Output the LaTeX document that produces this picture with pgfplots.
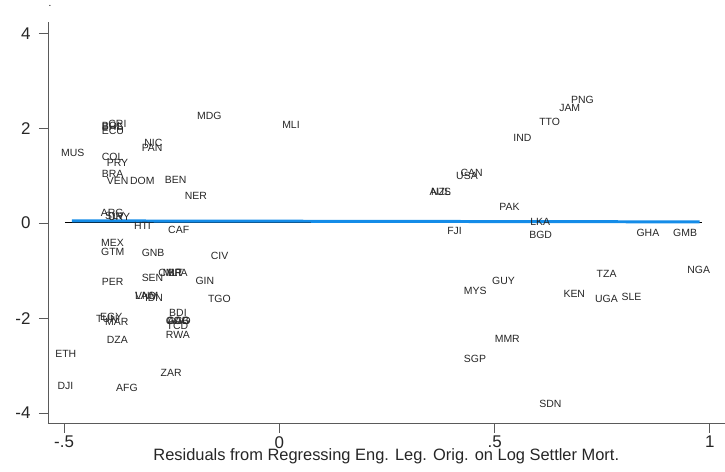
\documentclass[border=0pt]{standalone}
\usepackage{fontspec}
\setmainfont{Liberation Sans}
\usepackage{pgfplots}
\pgfplotsset{compat=1.18}
\definecolor{fitblue}{RGB}{20,140,232}
\definecolor{axgray}{RGB}{90,90,90}
\begin{document}
\begin{tikzpicture}
\begin{axis}[
  scale only axis, width=677bp, height=402.3bp,
  xmin=-0.5375, xmax=1.0343, ymin=-4.225, ymax=4.244,
  axis x line*=bottom, axis y line*=left,
  axis line style={draw=axgray, line width=0.8pt, -},
  xtick={-0.5,0,0.5,1}, xticklabels={-.5,0,.5,1},
  ytick={-4,-2,0,2,4}, yticklabels={-4,-2,0,2,4},
  tick align=outside, major tick length=9bp,
  tick style={axgray, line width=0.8pt},
  ticklabel style={font=\fontsize{17}{17}\selectfont, text=black!85},
  yticklabel style={xshift=-5bp},
  clip=false,
  xlabel={Residuals from Regressing Eng. Leg. Orig. on Log Settler Mort.},
  xlabel style={font=\fontsize{16.5}{16.5}\selectfont, text=black!85, at={(axis description cs:0.5,-0.082)}, anchor=center},
]
\path (rel axis cs:-0.0709,-0.1193) rectangle (rel axis cs:1.0,1.0539);
\node[font=\fontsize{10}{10}\selectfont] at (rel axis cs:0.003,1.039) {.};
\addplot[draw=none, mark=none, nodes near coords, point meta=explicit symbolic,
  nodes near coords style={anchor=west, inner sep=0pt, font=\fontsize{10.5}{10.5}\selectfont, text=black!85}]
  table[meta=lab] {
x y lab
-0.1914 2.265 MDG
0.0063 2.074 MLI
-0.3975 2.095 CRI
-0.4127 2.038 BOL
-0.4127 2.030 BHS
-0.4127 1.941 ECU
-0.5076 1.488 MUS
-0.3141 1.699 NIC
-0.3201 1.581 PAN
-0.4127 1.403 COL
-0.4012 1.276 PRY
-0.4127 1.031 BRA
-0.4012 0.895 VEN
-0.3472 0.895 DOM
-0.2662 0.910 BEN
-0.2199 0.571 NER
-0.4150 0.218 ARG
-0.4051 0.148 SLV
-0.3981 0.138 URY
-0.3380 -0.063 HTI
-0.2586 -0.148 CAF
-0.4144 -0.417 MEX
-0.4144 -0.607 GTM
-0.3201 -0.629 GNB
-0.1597 -0.698 CIV
-0.4127 -1.242 PER
-0.3201 -1.149 SEN
-0.2817 -1.052 CMR
-0.2708 -1.052 MLT
-0.2593 -1.052 BFA
-0.1951 -1.221 GIN
-0.3356 -1.539 VNM
-0.3356 -1.539 LAO
-0.3125 -1.572 IDN
-0.1660 -1.587 TGO
-0.2563 -1.898 BDI
-0.2640 -2.050 COG
-0.2620 -2.050 GAB
-0.2600 -2.050 AGO
-0.2623 -2.159 TCD
-0.2639 -2.349 RWA
-0.4167 -1.968 EGY
-0.4259 -2.017 TUN
-0.4051 -2.074 MAR
-0.4012 -2.461 DZA
-0.5208 -2.745 ETH
-0.5155 -3.429 DJI
-0.3796 -3.477 AFG
-0.2762 -3.147 ZAR
0.6775 2.603 PNG
0.6498 2.419 JAM
0.6035 2.131 TTO
0.5433 1.793 IND
0.4104 0.995 USA
0.4206 1.052 CAN
0.3488 0.650 AUS
0.3519 0.650 NZL
0.5109 0.339 PAK
0.5826 0.028 LKA
0.3896 -0.163 FJI
0.5803 -0.239 BGD
0.8294 -0.205 GHA
0.9144 -0.197 GMB
0.7368 -1.079 TZA
0.9475 -0.980 NGA
0.4938 -1.213 GUY
0.4282 -1.433 MYS
0.6597 -1.488 KEN
0.7331 -1.587 UGA
0.7947 -1.560 SLE
0.5000 -2.440 MMR
0.4282 -2.863 SGP
0.6035 -3.816 SDN
};
\addplot[black, line width=1.6pt] coordinates {(-0.498,0.017) (0.981,0.017)};
\addplot[fitblue, line width=3pt] coordinates {(-0.482,0.048) (0.976,0.027)};
\end{axis}
\end{tikzpicture}
\end{document}
